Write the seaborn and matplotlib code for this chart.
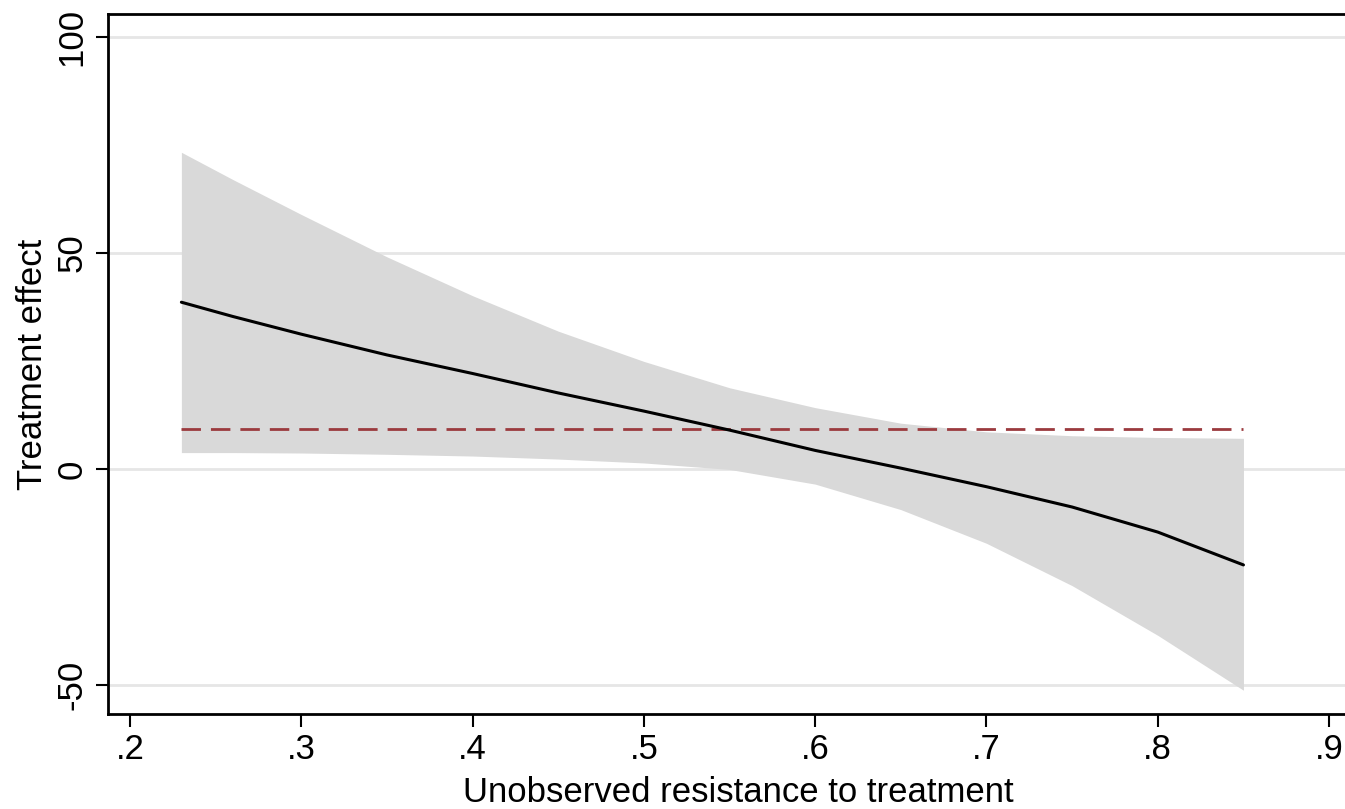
import numpy as np
import pandas as pd
import matplotlib
matplotlib.use("Agg")
import matplotlib.pyplot as plt
import seaborn as sns

# значения
resistance = [0.23, 0.26, 0.30, 0.35, 0.40, 0.45, 0.50, 0.55, 0.60, 0.65, 0.70, 0.75, 0.80, 0.85]
effect = [38.6, 35.3, 31.2, 26.4, 22.1, 17.6, 13.4, 9.0, 4.3, 0.2, -4.1, -8.8, -14.6, -22.2]
ci_upper = [73.3, 67.0, 58.9, 49.1, 40.1, 31.9, 24.9, 18.8, 14.2, 10.6, 8.6, 7.7, 7.3, 7.1]
ci_lower = [3.8, 3.8, 3.7, 3.4, 3.0, 2.3, 1.4, -0.1, -3.5, -9.4, -17.2, -27.0, -38.5, -51.2]
reference_level = 9.3

data = pd.DataFrame({"resistance": resistance, "effect": effect,
                     "upper": ci_upper, "lower": ci_lower})

sns.set_style("white")
plt.rcParams['font.family'] = ['Liberation Sans', 'DejaVu Sans']
plt.rcParams['text.color'] = 'black'
plt.rcParams['axes.labelcolor'] = 'black'
plt.rcParams['xtick.color'] = 'black'
plt.rcParams['ytick.color'] = 'black'

fig = plt.figure(figsize=(13.45, 8.09), dpi=100)
ax = fig.add_axes([108 / 1345, 1 - 714 / 809, 1260 / 1345, 700 / 809])

ax.fill_between(data["resistance"], data["lower"], data["upper"],
                color="#d9d9d9", linewidth=0, zorder=2)
sns.lineplot(x="resistance", y="effect", data=data, ax=ax,
             color="black", linewidth=2.2, zorder=4)
ref = pd.DataFrame({"x": [data["resistance"].min(), data["resistance"].max()],
                    "y": [reference_level, reference_level]})
sns.lineplot(x="x", y="y", data=ref, ax=ax, color="#9b3a3e",
             linewidth=2, linestyle=(0, (7, 3.6)), zorder=3)

ax.set_xlim(0.2 - 22 / 1713, 0.2 + (1368 - 130) / 1713)
ax.set_ylim(-56.7, 105.3)

ax.set_xticks([0.2, 0.3, 0.4, 0.5, 0.6, 0.7, 0.8, 0.9])
ax.set_xticklabels([".2", ".3", ".4", ".5", ".6", ".7", ".8", ".9"])
ax.set_yticks([-50, 0, 50, 100])
ax.set_yticklabels(["-50", "0", "50", "100"], rotation=90, va="center")

ax.yaxis.grid(True, color="#e6e6e6", linewidth=2, zorder=0)
ax.set_axisbelow(True)
ax.tick_params(axis="both", direction="out", length=9, width=1.5,
               color="black", labelsize=25, pad=5, left=True, bottom=True)

for side in ["left", "bottom", "top"]:
    ax.spines[side].set_color("black")
    ax.spines[side].set_linewidth(2)
ax.spines["right"].set_visible(False)

ax.set_xlabel("Unobserved resistance to treatment", fontsize=25, labelpad=7)
ax.set_ylabel("Treatment effect", fontsize=25, labelpad=5)

fig.savefig("out.png", dpi=100)
